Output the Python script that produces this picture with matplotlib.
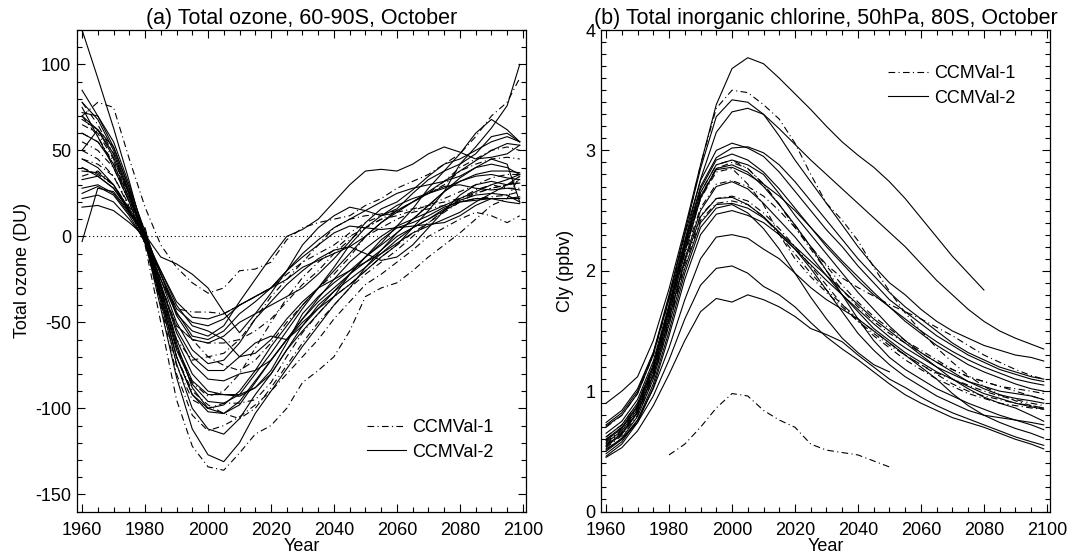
import numpy as np
import matplotlib
matplotlib.use("Agg")
import matplotlib.pyplot as plt
from matplotlib.ticker import MultipleLocator
from matplotlib.lines import Line2D

plt.rcParams['font.family'] = ['Liberation Sans', 'DejaVu Sans']
plt.rcParams['axes.unicode_minus'] = False

# ---------------- data ----------------
YEARS = [1960, 1965, 1970, 1975, 1980, 1985, 1990, 1995, 2000, 2005,
         2010, 2015, 2020, 2025, 2030, 2035, 2040, 2045, 2050, 2055,
         2060, 2065, 2070, 2075, 2080, 2085, 2090, 2095, 2099]

TITLE_A = "(a) Total ozone, 60-90S, October"
TITLE_B = "(b) Total inorganic chlorine, 50hPa, 80S, October"
LABELS = ["CCMVal-1", "CCMVal-2"]

# (a) total ozone anomaly (DU), CCMVal-2 models (solid)
OZONE_CCMVAL2 = [
    [120, 92, 63, 32, -2, -42, -82, -112, -127, -131, -120, -103, -90, -77, -64, -52, -40, -30, -18, -8, 2, 10, 18, 26, 34, 40, 45, 42, 20],
    [-3, 28, 26, 14, 2, -30, -62, -88, -100, -103, -96, -84, -72, -60, -48, -36, -25, -15, -7, 0, 6, 10, 14, 18, 22, 26, 30, 33, 36],
    [85, 70, 52, 28, -3, -38, -74, -100, -112, -115, -106, -92, -80, -66, -55, -45, -35, -22, -12, -4, 6, 16, 28, 38, 48, 60, 68, 62, 55],
    [78, 68, 50, 26, -1, -35, -70, -92, -100, -98, -90, -78, -64, -52, -40, -30, -20, -10, 0, 8, 14, 20, 26, 32, 38, 44, 50, 54, 53],
    [72, 70, 55, 30, 1, -34, -66, -86, -96, -97, -92, -80, -68, -55, -42, -30, -18, -5, 5, 12, 18, 22, 25, 28, 32, 35, 36, 34, 33],
    [68, 62, 48, 25, -2, -30, -60, -80, -90, -92, -93, -88, -78, -62, -45, -35, -27, -20, -12, -2, 5, 8, 12, 17, 20, 21, 22, 22, 23],
    [60, 55, 42, 22, 0, -28, -56, -74, -83, -84, -80, -78, -72, -60, -48, -38, -30, -22, -15, -10, -2, 5, 10, 16, 21, 24, 25, 24, 20],
    [50, 62, 52, 28, 3, -28, -54, -70, -78, -78, -70, -62, -58, -60, -52, -42, -32, -22, -12, -5, 2, 10, 18, 26, 32, 36, 38, 38, 37],
    [40, 35, 28, 15, -4, -25, -50, -66, -74, -72, -62, -48, -38, -28, -20, -13, -8, -6, -10, -14, -12, -5, 5, 15, 24, 30, 32, 30, 31],
    [38, 37, 30, 16, 2, -22, -46, -60, -62, -58, -50, -45, -40, -35, -30, -22, -13, -3, 8, 16, 20, 27, 35, 42, 45, 50, 55, 58, 55],
    [33, 35, 28, 15, -1, -25, -45, -55, -58, -52, -38, -25, -12, 0, 4, 10, 20, 30, 38, 39, 38, 42, 48, 52, 49, 45, 46, 48, 53],
    [28, 30, 25, 13, 1, -22, -42, -50, -52, -48, -40, -35, -30, -20, -5, 5, 12, 17, 15, 12, 16, 25, 33, 38, 42, 48, 58, 60, 55],
    [25, 29, 24, 12, -3, -20, -38, -47, -48, -45, -40, -35, -30, -25, -18, -14, -10, -6, 0, 8, 15, 20, 25, 29, 30, 28, 27, 28, 27],
    [22, 24, 20, 10, -2, -22, -44, -58, -60, -55, -45, -38, -30, -20, -12, -5, 2, 6, 5, 4, 5, 6, 7, 8, 12, 18, 22, 22, 22],
    [17, 18, 15, 8, 0, -20, -40, -52, -55, -60, -70, -68, -60, -48, -38, -30, -25, -20, -15, -8, 0, 5, 10, 15, 20, 22, 22, 20, 19],
    [45, 40, 30, 14, 1, -12, -16, -22, -30, -44, -56, -45, -33, -20, -10, -2, 5, 10, 15, 20, 25, 28, 30, 32, 35, 40, 42, 40, 36],
    [70, 62, 46, 24, -2, -32, -64, -84, -92, -92, -92, -88, -80, -66, -52, -40, -32, -25, -18, -10, -4, 2, 6, 10, 14, 20, 25, 30, 35],
    [75, 58, 40, 20, -4, -36, -70, -92, -102, -103, -98, -85, -72, -60, -50, -42, -35, -28, -20, -12, -5, 5, 15, 26, 42, 52, 63, 76, 100],
]

# (a) total ozone anomaly (DU), CCMVal-1 models (dash-dot)
OZONE_CCMVAL1 = [
    [70, 58, 42, 20, -5, -50, -95, -122, -134, -136, -126, -115, -110, -100, -85, -78, -70, -55, -35, -30, -27, -20, -12, -5, 2, 10, 18, 22, 35],
    [70, 78, 75, 45, 17, -5, -18, -27, -33, -30, -20, -19, -15, -2, 5, 8, 10, 12, 18, 22, 28, 32, 36, 42, 48, 58, 70, 78, 92],
    [78, 65, 48, 25, -3, -40, -80, -104, -113, -110, -105, -98, -90, -80, -70, -60, -48, -38, -28, -22, -15, -8, 0, 5, 10, 14, 12, 8, 12],
    [65, 60, 45, 23, 2, -38, -75, -95, -100, -97, -97, -95, -85, -70, -56, -45, -35, -28, -20, -12, -5, 2, 8, 14, 20, 25, 28, 30, 32],
    [55, 50, 40, 20, 3, -30, -52, -60, -62, -62, -60, -55, -48, -38, -28, -20, -10, -2, 5, 10, 15, 20, 25, 30, 38, 42, 45, 46, 45],
    [45, 42, 35, 18, 4, -25, -42, -44, -44, -45, -40, -35, -30, -22, -15, -10, -5, 2, 8, 12, 14, 16, 18, 20, 22, 25, 28, 30, 33],
    [35, 38, 30, 15, 0, -30, -60, -72, -70, -68, -60, -48, -35, -25, -15, -5, 5, 10, 12, 13, 15, 20, 25, 32, 40, 45, 50, 52, 50],
    [60, 55, 44, 22, -2, -35, -70, -90, -98, -103, -106, -100, -88, -75, -62, -50, -40, -30, -22, -15, -8, 0, 8, 15, 22, 27, 30, 28, 28],
    [40, 36, 30, 16, 1, -32, -65, -85, -93, -90, -80, -65, -50, -36, -24, -15, -8, 0, 5, 10, 12, 15, 18, 22, 26, 30, 34, 36, 36],
    [50, 45, 35, 17, 5, -28, -52, -60, -70, -75, -78, -72, -62, -50, -40, -30, -22, -12, 0, 5, 10, 14, 16, 18, 20, 22, 23, 24, 26],
]

# (b) Cly (ppbv), CCMVal-2 models (solid)
CLY_CCMVAL2 = [
    [0.90, 1.0, 1.12, 1.42, 1.85, 2.35, 2.88, 3.38, 3.68, 3.77, 3.72, 3.6, 3.47, 3.34, 3.2, 3.07, 2.96, 2.86, 2.74, 2.6, 2.44, 2.28, 2.12, 1.98, 1.84, None, None, None, None],
    [0.72, 0.82, 1.0, 1.32, 1.8, 2.32, 2.85, 3.28, 3.42, 3.40, 3.30, 3.12, 2.92, 2.74, 2.56, 2.38, 2.2, 2.04, 1.9, 1.8, 1.68, 1.58, 1.5, 1.44, 1.38, 1.34, 1.3, 1.28, 1.25],
    [0.74, 0.84, 1.02, 1.32, 1.76, 2.25, 2.76, 3.15, 3.32, 3.35, 3.3, 3.18, 3.05, 2.92, 2.8, 2.68, 2.56, 2.44, 2.32, 2.2, 2.06, 1.92, 1.8, 1.68, 1.58, 1.5, 1.44, 1.39, 1.35],
    [0.71, 0.8, 0.98, 1.3, 1.78, 2.3, 2.75, 3.0, 3.06, 3.02, 2.95, 2.82, 2.66, 2.5, 2.34, 2.2, 2.04, 1.9, 1.76, 1.66, 1.56, 1.46, 1.38, 1.3, 1.24, 1.18, 1.14, 1.1, 1.08],
    [0.65, 0.75, 0.93, 1.25, 1.72, 2.24, 2.7, 2.94, 3.02, 3.03, 2.98, 2.88, 2.74, 2.58, 2.42, 2.26, 2.1, 1.96, 1.82, 1.7, 1.6, 1.5, 1.4, 1.32, 1.26, 1.2, 1.16, 1.12, 1.1],
    [0.62, 0.72, 0.9, 1.22, 1.7, 2.22, 2.68, 2.92, 2.97, 2.92, 2.82, 2.68, 2.52, 2.36, 2.2, 2.06, 1.92, 1.8, 1.7, 1.6, 1.5, 1.41, 1.33, 1.26, 1.2, 1.15, 1.1, 1.07, 1.05],
    [0.59, 0.69, 0.87, 1.2, 1.68, 2.2, 2.65, 2.88, 2.92, 2.88, 2.8, 2.64, 2.46, 2.3, 2.14, 1.98, 1.82, 1.68, 1.54, 1.42, 1.32, 1.24, 1.16, 1.08, 1.02, 0.97, 0.94, 0.92, 0.9],
    [0.57, 0.67, 0.85, 1.17, 1.64, 2.15, 2.6, 2.85, 2.88, 2.82, 2.7, 2.55, 2.38, 2.2, 2.0, 1.8, 1.6, 1.42, 1.28, 1.18, 1.1, 1.02, 0.96, 0.9, 0.85, 0.8, 0.76, 0.72, 0.68],
    [0.54, 0.64, 0.82, 1.13, 1.6, 2.1, 2.5, 2.7, 2.74, 2.68, 2.56, 2.42, 2.28, 2.12, 1.96, 1.8, 1.66, 1.52, 1.42, 1.32, 1.24, 1.16, 1.1, 1.04, 0.98, 0.94, 0.9, 0.87, 0.85],
    [0.51, 0.61, 0.79, 1.1, 1.55, 2.02, 2.4, 2.55, 2.56, 2.52, 2.44, 2.32, 2.18, 2.02, 1.84, 1.66, 1.48, 1.34, 1.22, 1.12, 1.04, 0.96, 0.9, 0.84, 0.8, 0.78, 0.76, 0.74, 0.72],
    [0.48, 0.58, 0.76, 1.06, 1.5, 1.98, 2.36, 2.52, 2.55, 2.48, 2.35, 2.18, 1.98, 1.78, 1.6, 1.44, 1.32, 1.22, 1.16, None, None, None, None, None, None, None, None, None, None],
    [0.46, 0.56, 0.74, 1.03, 1.46, 1.93, 2.3, 2.47, 2.5, 2.46, 2.4, 2.3, 2.18, 2.05, 1.92, 1.8, 1.68, 1.56, 1.45, 1.36, 1.28, 1.2, 1.14, 1.08, 1.04, 1.0, 0.98, 0.96, 0.93],
    [0.5, 0.6, 0.76, 1.02, 1.36, 1.76, 2.1, 2.28, 2.3, 2.27, 2.18, 2.1, 1.98, 1.86, 1.76, 1.68, 1.6, 1.5, 1.4, 1.3, 1.2, 1.1, 0.98, 0.88, 0.8, 0.74, 0.69, 0.65, 0.61],
    [0.52, 0.6, 0.74, 0.96, 1.26, 1.6, 1.88, 2.02, 2.04, 1.98, 1.87, 1.8, 1.7, 1.57, 1.45, 1.35, 1.26, 1.16, 1.06, 0.97, 0.9, 0.84, 0.78, 0.74, 0.7, 0.65, 0.6, 0.56, 0.52],
    [0.45, 0.53, 0.67, 0.88, 1.14, 1.42, 1.66, 1.77, 1.74, 1.8, 1.76, 1.7, 1.62, 1.52, 1.47, 1.41, 1.3, 1.2, 1.1, 1.03, 0.95, 0.88, 0.82, 0.77, 0.72, 0.67, 0.62, 0.58, 0.55],
    [0.6, 0.7, 0.88, 1.2, 1.68, 2.18, 2.62, 2.84, 2.86, 2.8, 2.72, 2.62, 2.5, 2.36, 2.22, 2.08, 1.95, 1.82, 1.7, 1.58, 1.48, 1.38, 1.3, 1.22, 1.16, 1.11, 1.06, 1.02, 1.0],
    [0.55, 0.65, 0.83, 1.14, 1.6, 2.08, 2.45, 2.6, 2.61, 2.55, 2.45, 2.32, 2.2, 2.08, 1.96, 1.84, 1.72, 1.6, 1.5, 1.4, 1.3, 1.2, 1.1, 1.02, 0.95, 0.9, 0.86, 0.8, 0.75],
]

# (b) Cly (ppbv), CCMVal-1 models (dash-dot)
CLY_CCMVAL1 = [
    [0.7, 0.8, 0.98, 1.3, 1.76, 2.3, 2.88, 3.35, 3.5, 3.48, 3.38, 3.26, 3.06, 2.8, 2.56, 2.42, 2.25, 2.03, 1.83, 1.65, 1.5, 1.36, 1.24, 1.13, 1.04, 0.97, 0.92, 0.88, 0.86],
    [None, None, None, None, 0.47, 0.56, 0.7, 0.86, 0.98, 0.96, 0.84, 0.76, 0.7, 0.56, 0.51, 0.49, 0.47, 0.42, 0.37, None, None, None, None, None, None, None, None, None, None],
    [0.62, 0.72, 0.9, 1.22, 1.7, 2.22, 2.65, 2.88, 2.92, 2.85, 2.72, 2.55, 2.36, 2.18, 2.0, 1.84, 1.7, 1.58, 1.48, 1.4, 1.32, 1.24, 1.18, 1.12, 1.08, 1.04, 1.0, 0.96, 0.93],
    [0.58, 0.68, 0.86, 1.18, 1.64, 2.14, 2.52, 2.72, 2.75, 2.7, 2.62, 2.5, 2.36, 2.2, 2.04, 1.88, 1.74, 1.62, 1.52, 1.42, 1.34, 1.26, 1.18, 1.12, 1.08, 1.04, 1.02, 1.0, 0.98],
    [0.56, 0.66, 0.84, 1.16, 1.64, 2.16, 2.6, 2.82, 2.85, 2.72, 2.55, 2.3, 2.1, 1.95, 1.82, 1.7, 1.58, 1.48, 1.38, 1.3, 1.22, 1.15, 1.1, 1.05, 1.0, 0.96, 0.93, 0.9, 0.88],
    [0.53, 0.63, 0.8, 1.1, 1.56, 2.05, 2.42, 2.56, 2.58, 2.55, 2.45, 2.3, 2.14, 1.98, 1.84, 1.72, 1.6, 1.5, 1.4, 1.3, 1.22, 1.14, 1.06, 1.0, 0.96, 0.93, 0.9, 0.88, 0.86],
    [0.6, 0.7, 0.88, 1.2, 1.68, 2.2, 2.62, 2.85, 2.9, 2.85, 2.72, 2.55, 2.38, 2.2, 2.05, 1.94, 1.86, 1.79, 1.72, 1.66, 1.6, 1.53, 1.46, 1.38, 1.3, 1.24, 1.18, 1.13, 1.1],
    [0.55, 0.65, 0.82, 1.13, 1.58, 2.08, 2.46, 2.6, 2.62, 2.58, 2.48, 2.35, 2.2, 2.04, 1.88, 1.72, 1.58, 1.46, 1.36, 1.26, 1.18, 1.1, 1.04, 0.98, 0.94, 0.9, 0.88, 0.86, 0.85],
]

# ---------------- styling ----------------
LW = 0.8
DASHDOT = (0, (6, 3, 1, 3))
FS_TICK = 13
FS_LABEL = 13
FS_TITLE = 15.5
FS_LEG = 13

fig = plt.figure(figsize=(10.67, 5.56), dpi=100)
axA = fig.add_axes([0.0719, 0.080, 0.4211, 0.866])
axB = fig.add_axes([0.5630, 0.080, 0.4211, 0.866])

years = np.array(YEARS, dtype=float)


def draw(ax, group1, group2):
    for vals in group1:
        ax.plot(years, np.array(vals, dtype=float), color='black', lw=LW,
                linestyle=DASHDOT)
    for vals in group2:
        ax.plot(years, np.array(vals, dtype=float), color='black', lw=LW,
                linestyle='-')


def style(ax):
    ax.set_xlim(1958.3, 2101)
    ax.xaxis.set_major_locator(MultipleLocator(20))
    ax.xaxis.set_minor_locator(MultipleLocator(5))
    ax.tick_params(which='both', direction='in', top=True, right=True,
                   labelsize=FS_TICK, width=0.8, colors='black')
    ax.tick_params(which='major', length=6)
    ax.tick_params(which='minor', length=3.5)
    ax.tick_params(axis='x', pad=7.5)
    ax.tick_params(axis='y', pad=4)
    for s in ax.spines.values():
        s.set_linewidth(0.9)
    ax.set_xlabel("Year", fontsize=FS_LABEL, labelpad=-1)


# panel (a)
draw(axA, OZONE_CCMVAL1, OZONE_CCMVAL2)
axA.axhline(0, color='black', lw=0.8, linestyle=(0, (1, 2.5)))
style(axA)
axA.set_ylim(-160, 120)
axA.yaxis.set_major_locator(MultipleLocator(50))
axA.yaxis.set_minor_locator(MultipleLocator(10))
axA.set_ylabel("Total ozone (DU)", fontsize=FS_LABEL, labelpad=3)
axA.set_title(TITLE_A, fontsize=FS_TITLE, pad=4)

# panel (b)
draw(axB, CLY_CCMVAL1, CLY_CCMVAL2)
style(axB)
axB.set_ylim(0, 4)
axB.yaxis.set_major_locator(MultipleLocator(1))
axB.yaxis.set_minor_locator(MultipleLocator(0.1))
axB.set_ylabel("Cly (ppbv)", fontsize=FS_LABEL, labelpad=8)
axB.set_title(TITLE_B, fontsize=FS_TITLE, pad=4)

handles = [Line2D([], [], color='black', lw=LW, linestyle=DASHDOT),
           Line2D([], [], color='black', lw=LW, linestyle='-')]

for ax, anchor in ((axA, (0.645, 0.192)), (axB, (0.639, 0.927))):
    ax.legend(handles, LABELS, loc='upper left', bbox_to_anchor=anchor,
              frameon=False, fontsize=FS_LEG, handlelength=2.2,
              handletextpad=0.35, labelspacing=0.42, borderpad=0,
              borderaxespad=0)

fig.savefig("out.png", dpi=100)
